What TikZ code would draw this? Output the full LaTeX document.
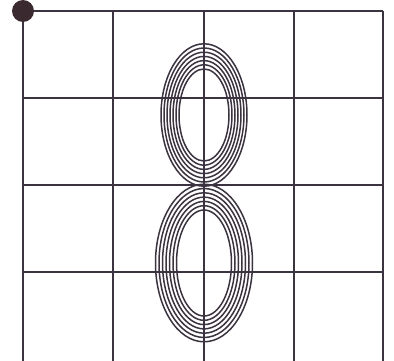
\documentclass[tikz,border=0pt]{standalone}
\usetikzlibrary{calc}
\definecolor{Ink}{HTML}{3B3340}
\definecolor{Dot}{HTML}{3A2A30}
\begin{document}
\begin{tikzpicture}[x=1pt,y=-1pt,
    gridline/.style={Ink,line width=1.2pt},
    ring/.style={Ink,line width=1.5pt}]
  \useasboundingbox (0,0) rectangle (394,361);
  % grid
  \foreach \x in {23,113,204,294,383}
    \draw[gridline] (\x,11)--(\x,361);
  \foreach \y in {11,98,185,272}
    \draw[gridline] (23,\y)--(383,\y);

  % two families of rings
  \foreach \i in {0,...,6}{
    \draw[ring] (204,115) ellipse ({25+3*\i} and {46+4.2*\i});
    \draw[ring] (204,263) ellipse ({27.5+3.5*\i} and {53+4.3*\i});
  }
  \fill[Dot] (23,11) circle (11);
\end{tikzpicture}
\end{document}
